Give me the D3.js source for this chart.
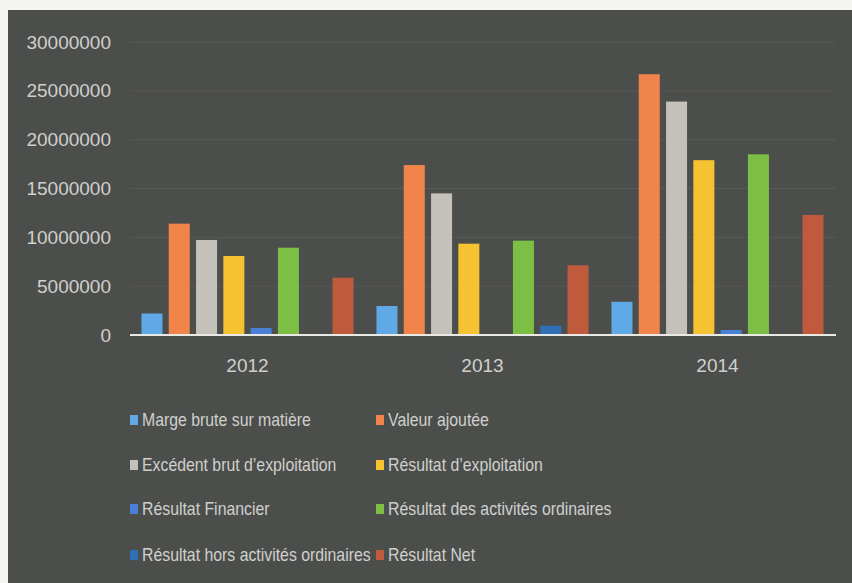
<!DOCTYPE html>
<html><head><meta charset="utf-8">
<script src="https://cdn.jsdelivr.net/npm/d3@7"></script>
<style>html,body{margin:0;padding:0;background:#f4f4f2;}svg{display:block;}</style>
</head><body>
<svg id="chart" width="852" height="583"></svg>
<script>
const categories = ["2012", "2013", "2014"];
const seriesNames = ["Marge brute sur matière", "Valeur ajoutée", "Excédent brut d’exploitation", "Résultat d’exploitation", "Résultat Financier", "Résultat des activités ordinaires", "Résultat hors activités ordinaires", "Résultat Net"];
const margeBrute = [2200000, 2970000, 3400000];
const valeurAjoutee = [11400000, 17400000, 26700000];
const excedentBrut = [9730000, 14500000, 23900000];
const resultatExploitation = [8090000, 9350000, 17900000];
const resultatFinancier = [720000, 100000, 510000];
const resultatActivites = [8940000, 9660000, 18500000];
const resultatHors = [0, 950000, 0];
const resultatNet = [5870000, 7130000, 12290000];
const yTicks = [0, 5000000, 10000000, 15000000, 20000000, 25000000, 30000000];
const colors = ["#5ea9e6", "#f0844a", "#c4c1ba", "#f5c232", "#4a7fd6", "#7cbf44", "#2f6fb5", "#c05a3c"];

const seriesValues = [margeBrute, valeurAjoutee, excedentBrut, resultatExploitation, resultatFinancier, resultatActivites, resultatHors, resultatNet];

const svg = d3.select("#chart");
svg.append("rect").attr("x", 8).attr("y", 10).attr("width", 844).attr("height", 573).attr("fill", "#4c4e4c");

const y = d3.scaleLinear().domain([0, 30000000]).range([335, 42]);
const x0 = d3.scaleBand().domain(categories).range([130, 835]).paddingInner(0).paddingOuter(0);
const x1 = d3.scaleBand().domain(d3.range(seriesNames.length)).range([0, x0.bandwidth()]).paddingInner(0.23).paddingOuter(0.42);

// gridlines
svg.append("g").selectAll("line").data(yTicks.filter(d => d > 0)).join("line")
  .attr("x1", 130).attr("x2", 836)
  .attr("y1", d => y(d)).attr("y2", d => y(d))
  .attr("stroke", "#575956").attr("stroke-width", 1);

// y axis labels
const yAxis = d3.axisLeft(y).tickValues(yTicks).tickSize(0).tickPadding(0).tickFormat(d3.format("d"));
const gy = svg.append("g").attr("transform", "translate(111,0)").call(yAxis);
gy.select(".domain").remove();
gy.selectAll("text").attr("fill", "#cfd0cc").style("font-family", "'Liberation Sans', sans-serif").style("font-size", "19px");

// bars
const groups = svg.append("g").selectAll("g").data(categories).join("g")
  .attr("transform", d => `translate(${x0(d)},0)`);
groups.selectAll("rect").data((c, ci) => seriesValues.map((vals, si) => ({si, v: vals[ci]}))).join("rect")
  .attr("x", d => x1(d.si)).attr("width", x1.bandwidth())
  .attr("y", d => y(d.v)).attr("height", d => y(0) - y(d.v))
  .attr("fill", d => colors[d.si]);

// x axis
const xAxis = d3.axisBottom(x0).tickSize(0).tickPadding(24);
const gx = svg.append("g").attr("transform", `translate(0,${y(0)})`).call(xAxis);
gx.select(".domain").attr("stroke", "#e8e8e4").attr("stroke-width", 2).attr("d", "M130,0H836");
gx.selectAll("text").attr("fill", "#cfd0cc").style("font-family", "'Liberation Sans', sans-serif").style("font-size", "19px");

// legend
const legend = svg.append("g");
const colX = [130, 376];
const rowY = [420, 465, 509, 555];
seriesNames.forEach((name, i) => {
  const cx = colX[i % 2], cy = rowY[Math.floor(i / 2)];
  legend.append("rect").attr("x", cx).attr("y", cy - 5).attr("width", 8).attr("height", 10).attr("fill", colors[i]);
  legend.append("text").attr("transform", `translate(${cx + 12},${cy}) scale(0.88,1)`).attr("dy", "0.35em")
    .attr("fill", "#cfd0cc").style("font-family", "'Liberation Sans', sans-serif").style("font-size", "18px")
    .text(name);
});
</script>
</body></html>
